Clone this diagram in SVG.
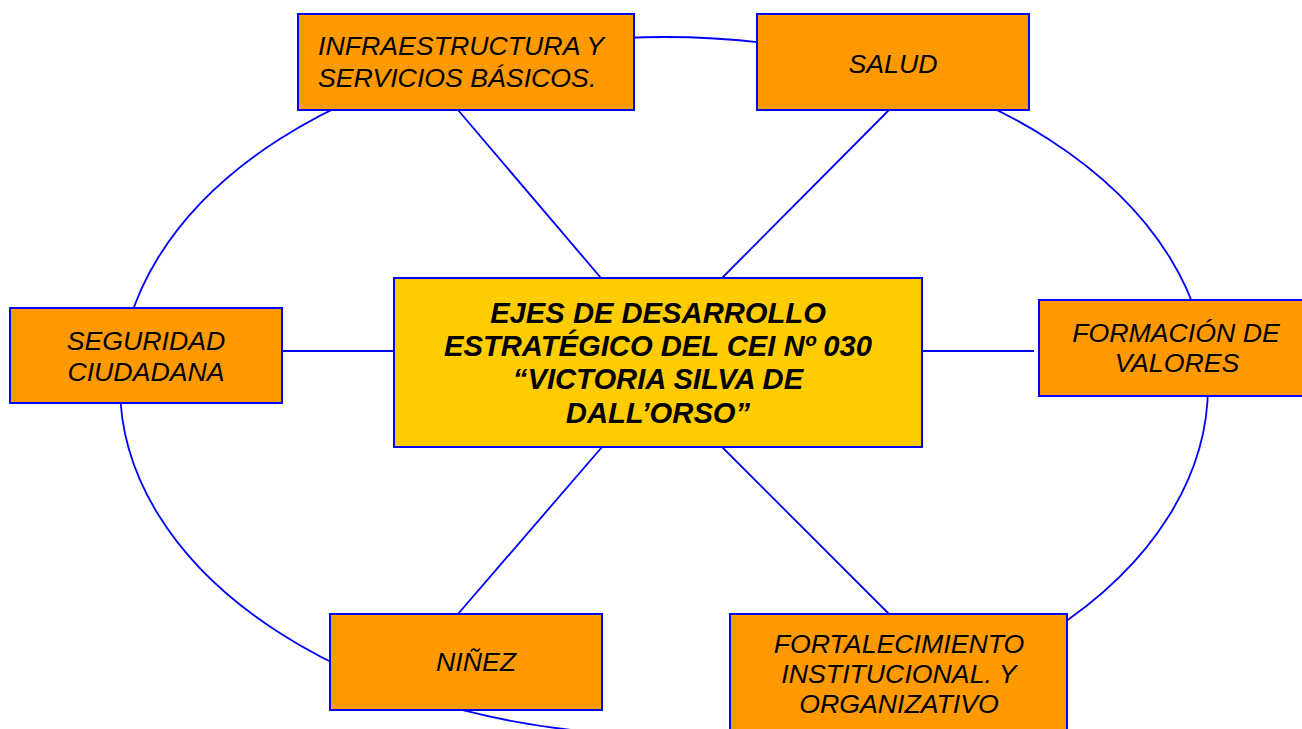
<svg xmlns="http://www.w3.org/2000/svg" width="1302" height="729" viewBox="0 0 1302 729">
<style>
.box{fill:#FF9900;stroke:#0000FF;stroke-width:2}
.center{fill:#FFCC00;stroke:#0000FF;stroke-width:2}
.lbl{font-family:"Liberation Sans",Arial,sans-serif;font-style:italic;font-size:26.7px;fill:#000}
.ctr{font-family:"Liberation Sans",Arial,sans-serif;font-style:italic;font-weight:bold;font-size:29.2px;fill:#000;text-anchor:middle}
.mid{text-anchor:middle}
.ln{stroke:#0000FF;stroke-width:1.8;fill:none}
</style>
<rect width="1302" height="729" fill="#fff"/>
<g id="connectors">
<ellipse class="ln" cx="664" cy="386" rx="544" ry="349"/>
<line class="ln" x1="458" y1="110" x2="601" y2="278"/>
<line class="ln" x1="889" y1="110" x2="722" y2="278"/>
<line class="ln" x1="282" y1="351" x2="394" y2="351"/>
<line class="ln" x1="922" y1="351" x2="1034" y2="351"/>
<line class="ln" x1="602" y1="447" x2="458" y2="614"/>
<line class="ln" x1="722" y1="447" x2="889" y2="614"/>
</g>
<g id="infra">
<rect class="box" x="298" y="14" width="336" height="96"/>
<text class="lbl" x="318" y="55">INFRAESTRUCTURA Y</text>
<text class="lbl" x="318" y="87">SERVICIOS BÁSICOS.</text>
</g>
<g id="salud">
<rect class="box" x="757" y="14" width="272" height="96"/>
<text class="lbl mid" x="893" y="73">SALUD</text>
</g>
<g id="seguridad">
<rect class="box" x="10" y="308" width="272" height="95"/>
<text class="lbl mid" x="146" y="350">SEGURIDAD</text>
<text class="lbl mid" x="146" y="381">CIUDADANA</text>
</g>
<g id="formacion">
<rect class="box" x="1039" y="300" width="274" height="96"/>
<text class="lbl mid" x="1176" y="342">FORMACIÓN DE</text>
<text class="lbl mid" x="1177" y="372">VALORES</text>
</g>
<g id="ninez">
<rect class="box" x="330" y="614" width="272" height="96"/>
<text class="lbl mid" x="476" y="671">NIÑEZ</text>
</g>
<g id="fortalecimiento">
<rect class="box" x="730" y="614" width="337" height="130"/>
<text class="lbl mid" x="899" y="653">FORTALECIMIENTO</text>
<text class="lbl mid" x="899" y="683">INSTITUCIONAL. Y</text>
<text class="lbl mid" x="899" y="713">ORGANIZATIVO</text>
</g>
<g id="center">
<rect class="center" x="394" y="278" width="528" height="169"/>
<text class="ctr" x="658" y="323">EJES DE DESARROLLO</text>
<text class="ctr" x="658" y="356">ESTRATÉGICO DEL CEI Nº 030</text>
<text class="ctr" x="658" y="389">“VICTORIA SILVA DE</text>
<text class="ctr" x="658" y="423">DALL’ORSO”</text>
</g>
</svg>
